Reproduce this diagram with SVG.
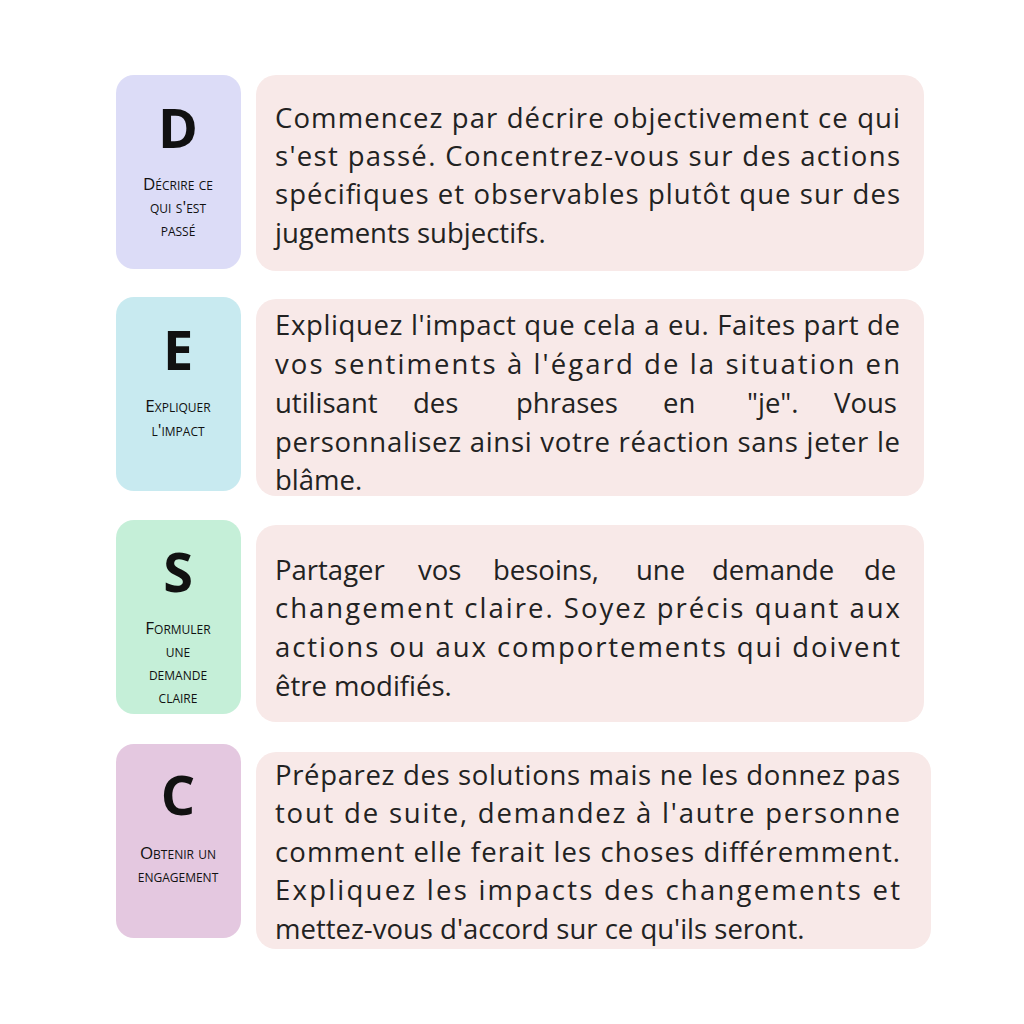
<svg xmlns="http://www.w3.org/2000/svg" width="1024" height="1024" viewBox="0 0 1024 1024">
<style>
.big{font-family:"Open Sans","DejaVu Sans",sans-serif;font-weight:bold;font-size:54px;fill:#111;text-anchor:middle}
.lab{font-family:"Open Sans","DejaVu Sans",sans-serif;font-size:17px;font-variant:small-caps;fill:#111;text-anchor:middle}
.t{font-family:"Open Sans","DejaVu Sans",sans-serif;font-size:27.5px;fill:#222}
.card{fill:#f8e9e8}
</style>
<rect width="1024" height="1024" fill="#fff"/>
<g id="D">
<rect x="116" y="75" width="125" height="194" rx="18" fill="#dcdcf7"/>
<text class="big" x="178" y="148">D</text>
<text class="lab" x="178" y="190">Décrire ce</text>
<text class="lab" x="178" y="213">qui s'est</text>
<text class="lab" x="178" y="236">passé</text>
<rect class="card" x="256" y="75" width="668" height="196" rx="20"/>
<text class="t" x="275" y="128" textLength="625" lengthAdjust="spacing">Commencez par décrire objectivement ce qui</text>
<text class="t" x="275" y="166" textLength="625" lengthAdjust="spacing">s'est passé. Concentrez-vous sur des actions</text>
<text class="t" x="275" y="204" textLength="625" lengthAdjust="spacing">spécifiques et observables plutôt que sur des</text>
<text class="t" x="275" y="243">jugements subjectifs.</text>
</g>
<g id="E">
<rect x="116" y="297" width="125" height="194" rx="18" fill="#c8eaf0"/>
<text class="big" x="178" y="370">E</text>
<text class="lab" x="178" y="412">Expliquer</text>
<text class="lab" x="178" y="436">l'impact</text>
<rect class="card" x="256" y="299" width="668" height="197" rx="20"/>
<text class="t" x="275" y="335" textLength="625" lengthAdjust="spacing">Expliquez l'impact que cela a eu. Faites part de</text>
<text class="t" x="275" y="374" textLength="625" lengthAdjust="spacing">vos sentiments à l'égard de la situation en</text>
<text class="t" y="413"><tspan x="275">utilisant</tspan><tspan x="413">des</tspan><tspan x="516">phrases</tspan><tspan x="663">en</tspan><tspan x="747">"je".</tspan><tspan x="834">Vous</tspan></text>
<text class="t" x="275" y="452" textLength="625" lengthAdjust="spacing">personnalisez ainsi votre réaction sans jeter le</text>
<text class="t" x="275" y="490">blâme.</text>
</g>
<g id="S">
<rect x="116" y="520" width="125" height="194" rx="18" fill="#c5efd8"/>
<text class="big" x="178" y="592">S</text>
<text class="lab" x="178" y="634">Formuler</text>
<text class="lab" x="178" y="657">une</text>
<text class="lab" x="178" y="680">demande</text>
<text class="lab" x="178" y="703">claire</text>
<rect class="card" x="256" y="525" width="668" height="197" rx="20"/>
<text class="t" y="580"><tspan x="275">Partager</tspan><tspan x="418">vos</tspan><tspan x="493">besoins,</tspan><tspan x="636">une</tspan><tspan x="712">demande</tspan><tspan x="864">de</tspan></text>
<text class="t" x="275" y="618" textLength="625" lengthAdjust="spacing">changement claire. Soyez précis quant aux</text>
<text class="t" x="275" y="657" textLength="625" lengthAdjust="spacing">actions ou aux comportements qui doivent</text>
<text class="t" x="275" y="696">être modifiés.</text>
</g>
<g id="C">
<rect x="116" y="744" width="125" height="194" rx="18" fill="#e4c8e0"/>
<text class="big" x="178" y="815">C</text>
<text class="lab" x="178" y="859">Obtenir un</text>
<text class="lab" x="178" y="882">engagement</text>
<rect class="card" x="256" y="752" width="675" height="197" rx="20"/>
<text class="t" x="275" y="785" textLength="625" lengthAdjust="spacing">Préparez des solutions mais ne les donnez pas</text>
<text class="t" x="275" y="823" textLength="625" lengthAdjust="spacing">tout de suite, demandez à l'autre personne</text>
<text class="t" x="275" y="862" textLength="625" lengthAdjust="spacing">comment elle ferait les choses différemment.</text>
<text class="t" x="275" y="900" textLength="625" lengthAdjust="spacing">Expliquez les impacts des changements et</text>
<text class="t" x="275" y="939">mettez-vous d'accord sur ce qu'ils seront.</text>
</g>
<g id="connectors"/>
</svg>
